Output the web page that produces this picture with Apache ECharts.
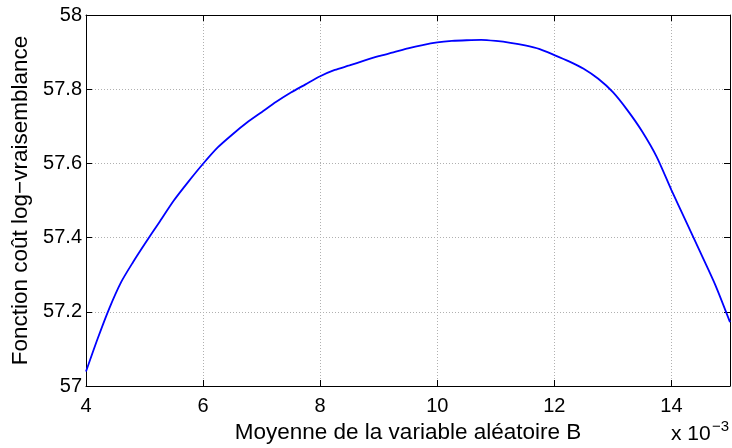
<!DOCTYPE html>
<html>
<head>
<meta charset="utf-8">
<script src="https://cdn.jsdelivr.net/npm/echarts@6/dist/echarts.min.js"></script>
<style>
html,body{margin:0;padding:0;background:#fff;}
#chart{width:732px;height:448px;}
</style>
</head>
<body>
<div id="chart"></div>
<script>
// B mean values (x 10^-3)
const xValues = [4.0,4.2,4.4,4.6,4.8,5.0,5.25,5.5,5.75,6.0,6.25,6.5,6.75,7.0,7.25,7.5,7.75,8.0,8.25,8.5,8.75,9.0,9.25,9.5,9.75,10.0,10.25,10.5,10.75,11.0,11.25,11.5,11.75,12.0,12.25,12.5,12.75,13.0,13.25,13.5,13.75,14.0,14.25,14.5,14.75,15.0];
// log-likelihood cost values
const yValues = [57.039,57.128,57.210,57.280,57.333,57.382,57.441,57.500,57.551,57.599,57.643,57.678,57.710,57.738,57.766,57.791,57.813,57.835,57.852,57.864,57.877,57.889,57.899,57.910,57.919,57.926,57.930,57.932,57.933,57.930,57.925,57.918,57.908,57.892,57.875,57.855,57.828,57.792,57.743,57.686,57.617,57.528,57.443,57.358,57.272,57.172];
const xTitle = 'Moyenne de la variable aléatoire B';
const yTitle = 'Fonction coût log\u2212vraisemblance';
const xMultiplierBase = 'x 10';
const xMultiplierExp = '\u22123';

const FONT = '"Liberation Sans", Arial, Helvetica, sans-serif';
const chart = echarts.init(document.getElementById('chart'), null, {renderer:'canvas'});
const seriesData = xValues.map((x,i)=>[x, yValues[i]]);
const splitLine = {show:true, lineStyle:{color:'#b0b0b0', width:1, type:[1,2]}};
const axisLine = {show:true, onZero:false, lineStyle:{color:'#000', width:1}};
const tick = {show:true, inside:true, length:6, lineStyle:{color:'#000', width:1}};

chart.setOption({
  animation:false,
  backgroundColor:'#fff',
  grid:{left:86, right:2, top:15, bottom:62, containLabel:false, outerBoundsMode:'none'},
  xAxis:[{
    type:'value', min:4, max:15, interval:2, position:'bottom',
    axisLine, axisTick:tick, splitLine,
    axisLabel:{color:'#000', fontFamily:FONT, fontSize:20, margin:10,
      formatter:v=> (v>14.5?'':String(v))},
    name:xTitle, nameLocation:'middle', nameGap:24,
    nameTextStyle:{color:'#000', fontFamily:FONT, fontSize:22.5}
  },{
    type:'value', min:4, max:15, interval:2, position:'top',
    axisLine, axisTick:tick, splitLine:{show:false}, axisLabel:{show:false}
  }],
  yAxis:[{
    type:'value', min:57, max:58, interval:0.2, position:'left',
    axisLine, axisTick:tick, splitLine,
    axisLabel:{color:'#000', fontFamily:FONT, fontSize:20, margin:4,
      formatter:v=> String(+v.toFixed(1))},
    name:yTitle, nameLocation:'middle', nameGap:50,
    nameTextStyle:{color:'#000', fontFamily:FONT, fontSize:22.5}
  },{
    type:'value', min:57, max:58, interval:0.2, position:'right',
    axisLine, axisTick:tick, splitLine:{show:false}, axisLabel:{show:false}
  }],
  graphic:[{
    type:'text', x:671, y:434.5,
    style:{text:xMultiplierBase, fontFamily:FONT, fontSize:21, fill:'#000', verticalAlign:'middle', align:'left'}
  },{
    type:'text', x:712, y:426.5,
    style:{text:xMultiplierExp, fontFamily:FONT, fontSize:15, fill:'#000', verticalAlign:'middle', align:'left'}
  }],
  series:[{
    type:'line', data:seriesData, xAxisIndex:0, yAxisIndex:0,
    smooth:0.25, showSymbol:false, symbol:'none',
    lineStyle:{color:'#0000ff', width:1.8}
  }]
});
</script>
</body>
</html>
